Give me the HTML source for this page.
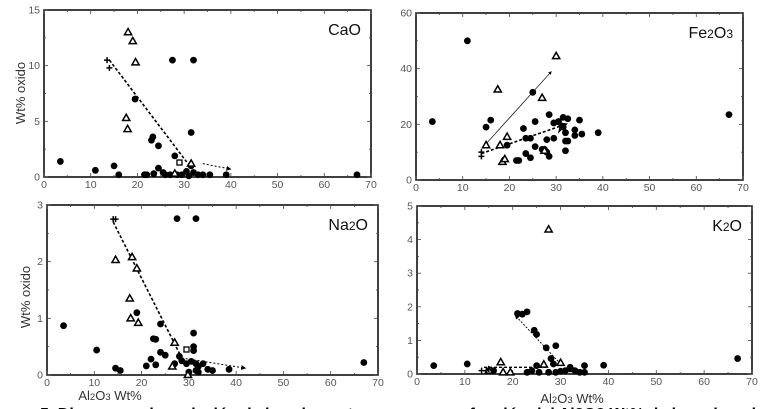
<!DOCTYPE html>
<html><head><meta charset="utf-8">
<style>
html,body{margin:0;padding:0;background:#fff;width:765px;height:409px;overflow:hidden}
svg{display:block}
text{font-family:"Liberation Sans",Arial,sans-serif}
</style></head>
<body>
<svg id="chart" width="765" height="409" viewBox="0 0 765 409" xmlns="http://www.w3.org/2000/svg">
<text x="40" y="419" font-size="16" font-weight="bold" fill="#000">5. Diagramas de variación de los elementos mayores en función del Al2O3 Wt% de los minerales</text>
</svg>
<script>
// ---- CaO ----
const caoCircleX = [3.5,11,15,16,19.5,23,23.3,24.5,28,27.5,32,31.5,21.5,22,23.5,24.5,25.5,26,27,28.5,29.5,30.5,31,32,33,34,35.5,39,67,31.5];
const caoCircleY = [1.4,0.6,1,0.2,7,3.3,3.6,2.8,1.9,10.5,10.5,4,0.2,0.2,0.3,0.8,0.4,0.2,0.2,0.2,0.2,0.5,0.1,0.4,0.2,0.2,0.2,0.2,0.2,1];
const caoTriX = [18,19,19.6,17.6,17.9,31.5,28];
const caoTriY = [13,12.2,10.3,5.3,4.3,1.2,0.3];
const caoPlusX = [13.5,14];
const caoPlusY = [10.5,9.8];
const caoSqX = [29];
const caoSqY = [1.3];
// ---- Fe2O3 ----
const feCircleX = [3.5,11,15,16,23,25,25.5,28.5,29.5,30.5,31.5,32.5,35,34,34,35.5,39,67,19.5,23.5,24.5,25.5,23.5,24.5,21.5,22,27,27.5,28,28.5,28,29.5,32,32.5,32,32,31.5];
const feCircleY = [21,50,19,21.5,18.5,31.5,21,23.5,20.5,21,22.5,22,21.5,18,16,16.5,17,23.5,12.5,15,15,12,9.5,8,7,7,11,11,10,8.5,14.5,15,14,14,10.5,17,19];
const feTriX = [15,18,19.5,17.5,27,30,18.5,19,27.5];
const feTriY = [12.5,12.5,15.5,32.5,29.5,44.5,6.5,7.5,10.5];
const fePlusX = [14,14];
const fePlusY = [10,8.5];
// ---- Na2O ----
const naCircleX = [3.5,10.5,14.5,15.5,19,24,22.5,23,24,25,22,21,23,27.5,31.5,31,31,31,28,28.5,27,29.5,30.5,31.5,32,33,34,35,38.5,31.5,30,67,32];
const naCircleY = [0.87,0.44,0.12,0.08,1.1,0.9,0.64,0.63,0.4,0.35,0.28,0.16,0.18,2.76,2.76,0.74,0.5,0.43,0.33,0.25,0.2,0.2,0.24,0.2,0.15,0.2,0.1,0.08,0.1,0.08,0.05,0.22,0.05];
const naTriX = [14.5,18,19,17.5,17.7,19.3,27,26.5,29.8];
const naTriY = [2.03,2.08,1.88,1.35,1.0,0.92,0.57,0.15,0.0];
const naPlusX = [14,14.5];
const naPlusY = [2.75,2.75];
const naSqX = [29.5];
const naSqY = [0.45];
// ---- K2O ----
const kCircleX = [3.5,10.5,21,22,23,24.5,25,27,29,28,28.5,25,35,39,67,16,25.5,29,30,31,32,33,34,35,23,24,27.5,32];
const kCircleY = [0.25,0.3,1.8,1.78,1.85,1.3,1.18,0.78,0.84,0.46,0.3,0.25,0.25,0.26,0.46,0.1,0.05,0.05,0.08,0.1,0.15,0.1,0.05,0.05,0.05,0.1,0.05,0.2];
const kTriX = [27.5,17.5,26.5,30,18,19.5,15];
const kTriY = [4.3,0.35,0.28,0.33,0.05,0.05,0.1];
const kPlusX = [13.5,14.5,15];
const kPlusY = [0.1,0.1,0.15];
// ticks
const xTicks = [0,10,20,30,40,50,60,70];
const caoYTicks = [0,5,10,15];
const feYTicks = [0,20,40,60];
const naYTicks = [0,1,2,3];
const kYTicks = [0,1,2,3,4,5];

const NS='http://www.w3.org/2000/svg';
const svg=document.getElementById('chart');
function mk(tag,attrs,parent){const e=document.createElementNS(NS,tag);for(const k in attrs)e.setAttribute(k,attrs[k]);(parent||svg).appendChild(e);return e;}
const defs=mk('defs',{});
const m2=mk('marker',{id:'ahf',viewBox:'0 0 10 10',refX:'9',refY:'5',markerWidth:'5',markerHeight:'5',orient:'auto'},defs);
mk('path',{d:'M0,0 L10,5 L0,10 z',fill:'#000'},m2);
const m3=mk('marker',{id:'ahbig',viewBox:'0 0 10 10',refX:'8',refY:'5',markerWidth:'8',markerHeight:'8',orient:'auto'},defs);
mk('path',{d:'M0,0 L10,5 L0,10 L3,5 z',fill:'#000'},m3);

function panel(o){
  const g=mk('g',{});
  
  
  const sx=v=>o.l+(v-0)/70*(o.r-o.l);
  const sy=v=>o.b-v/o.ymax*(o.b-o.t);
  const fr=mk('rect',{x:o.l,y:o.t,width:o.r-o.l,height:o.b-o.t,fill:'none',stroke:'#111','stroke-width':'1.6'},g);
  
  
  xTicks.forEach((v,i)=>{
    const x=sx(v);
    mk('line',{x1:x,y1:o.b,x2:x,y2:o.b-4,stroke:'#444','stroke-width':'0.8'},g);
    mk('line',{x1:x,y1:o.t,x2:x,y2:o.t+4,stroke:'#444','stroke-width':'0.8'},g);
    if(i<xTicks.length-1){const xm=sx(v+5);
      mk('line',{x1:xm,y1:o.b,x2:xm,y2:o.b-2,stroke:'#444','stroke-width':'0.8'},g);
      mk('line',{x1:xm,y1:o.t,x2:xm,y2:o.t+2,stroke:'#444','stroke-width':'0.8'},g);}
    const t=mk('text',{x:x,y:o.b+11,'font-size':'10.5','text-anchor':'middle',fill:'#555'},g);
    t.textContent=v;
    
    
  });
  o.yt.forEach((v,i)=>{
    const y=sy(v);
    mk('line',{x1:o.l,y1:y,x2:o.l+4,y2:y,stroke:'#444','stroke-width':'0.8'},g);
    mk('line',{x1:o.r,y1:y,x2:o.r-4,y2:y,stroke:'#444','stroke-width':'0.8'},g);
    if(i<o.yt.length-1){const ym=sy(v+(o.yt[1]-o.yt[0])/2);
      mk('line',{x1:o.l,y1:ym,x2:o.l+2,y2:ym,stroke:'#444','stroke-width':'0.8'},g);
      mk('line',{x1:o.r,y1:ym,x2:o.r-2,y2:ym,stroke:'#444','stroke-width':'0.8'},g);}
    const t=mk('text',{x:o.l-4,y:y+3.5,'font-size':'10.5','text-anchor':'end',fill:'#555'},g);
    t.textContent=v;
    
    
  });
  (o.lines||[]).forEach(L=>{
    const a={x1:sx(L[0]),y1:sy(L[1]),x2:sx(L[2]),y2:sy(L[3]),stroke:'#000','stroke-width':L[5]||1.6};
    if(L[4])a['stroke-dasharray']=L[4];
    if(L[6])a['marker-end']='url(#'+L[6]+')';
    const ln=mk('line',a,g);
    
    
  });
  o.cx.forEach((v,i)=>{
    const c=mk('circle',{cx:sx(v),cy:sy(o.cy[i]),r:3.4,fill:'#000'},g);
    
    
  });
  o.tx.forEach((v,i)=>{
    const x=sx(v),y=sy(o.ty[i]);
    const p=mk('path',{d:`M${x},${y-3.8} L${x+3.6},${y+2.5} L${x-3.6},${y+2.5} Z`,fill:'#fff',stroke:'#000','stroke-width':'1.5'},g);
    
    
  });
  (o.px||[]).forEach((v,i)=>{
    const x=sx(v),y=sy(o.py[i]);
    const p=mk('path',{d:`M${x-3},${y} H${x+3} M${x},${y-3} V${y+3}`,stroke:'#000','stroke-width':'1.5'},g);
    
    
  });
  (o.sqx||[]).forEach((v,i)=>{
    const x=sx(v),y=sy(o.sqy[i]);
    const p=mk('rect',{x:x-2.5,y:y-2.5,width:5,height:5,fill:'#fff',stroke:'#000','stroke-width':'1.3'},g);
    
    
  });
  const tt=mk('text',{x:o.r-10,y:o.t+25,'font-size':'16','text-anchor':'end',fill:'#111'},g);
  tt.innerHTML=o.title;
  
  
  if(o.ylab){const yl=mk('text',{x:0,y:0,transform:`translate(${o.ylab[0]},${o.ylab[1]}) rotate(-90)`,'font-size':'13','text-anchor':'middle',fill:'#333'},g);
    yl.textContent='Wt% oxido';
    
    }
  if(o.xlab){const xl=mk('text',{x:o.xlab[0],y:o.xlab[1],'font-size':'13','text-anchor':'middle',fill:'#333'},g);
    xl.innerHTML='Al<tspan font-size="9.5">2</tspan>O<tspan font-size="9.5">3</tspan> Wt%';
    
    }
}
panel({name:'cao',l:44,r:371,t:10,b:177,ymax:15,yt:caoYTicks,title:'CaO',
  cx:caoCircleX,cy:caoCircleY,tx:caoTriX,ty:caoTriY,px:caoPlusX,py:caoPlusY,sqx:caoSqX,sqy:caoSqY,ylab:[25,93],
  lines:[[14,10.5,31,1.1,'3,2',1.6],[34,1.2,40,0.7,'2,2',1,'ahf']]});
panel({name:'fe2o3',l:416,r:743,t:13,b:180,ymax:60,yt:feYTicks,title:'Fe<tspan font-size="12">2</tspan>O<tspan font-size="12">3</tspan>',
  cx:feCircleX,cy:feCircleY,tx:feTriX,ty:feTriY,px:fePlusX,py:fePlusY,
  lines:[[15,13,29,39,null,0.7,'ahf'],[14,9.5,32,20,'3,2',1.6,'ahbig']]});
panel({name:'na2o',l:47,r:378,t:205,b:375,ymax:3,yt:naYTicks,title:'Na<tspan font-size="12">2</tspan>O',
  cx:naCircleX,cy:naCircleY,tx:naTriX,ty:naTriY,px:naPlusX,py:naPlusY,sqx:naSqX,sqy:naSqY,ylab:[30,297],xlab:[110,400],
  lines:[[14,2.7,28.5,0.3,'3,2',1.6],[28.5,0.3,42,0.12,'2,2',1,'ahf']]});
panel({name:'k2o',l:417,r:752,t:206,b:374,ymax:5,yt:kYTicks,title:'K<tspan font-size="12">2</tspan>O',
  cx:kCircleX,cy:kCircleY,tx:kTriX,ty:kTriY,px:kPlusX,py:kPlusY,xlab:[572,403],
  lines:[[14,0.2,27,0.2,'3,2',1.4],[30,0.3,20.5,1.75,'2,1.5',0.9,'ahf']]});
</script>
</body></html>
